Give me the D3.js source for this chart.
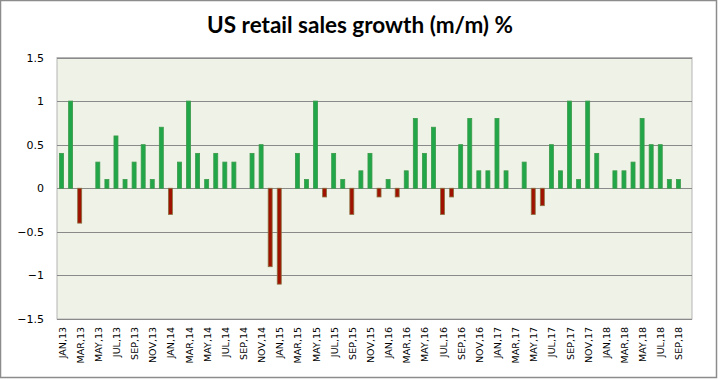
<!DOCTYPE html>
<html>
<head>
<meta charset="utf-8">
<script src="https://cdn.jsdelivr.net/npm/d3@7"></script>
<style>
  html, body { margin: 0; padding: 0; background: #ffffff; }
  svg { display: block; }
</style>
</head>
<body>
<script>
const title = "US retail sales growth (m/m) %";
const months = ["JAN","FEB","MAR","APR","MAY","JUN","JUL","AUG","SEP","OCT","NOV","DEC"];
const years = ["13","14","15","16","17","18"];
const categories = [];
years.forEach(y => months.forEach(m => categories.push(m + "," + y)));
categories.splice(70); // JAN,13 ... OCT,18
const values = [
  0.4, 1.0, -0.4, 0, 0.3, 0.1, 0.6, 0.1, 0.3, 0.5, 0.1, 0.7,
  -0.3, 0.3, 1.0, 0.4, 0.1, 0.4, 0.3, 0.3, 0, 0.4, 0.5, -0.9,
  -1.1, 0, 0.4, 0.1, 1.0, -0.1, 0.4, 0.1, -0.3, 0.2, 0.4, -0.1,
  0.1, -0.1, 0.2, 0.8, 0.4, 0.7, -0.3, -0.1, 0.5, 0.8, 0.2, 0.2,
  0.8, 0.2, 0, 0.3, -0.3, -0.2, 0.5, 0.2, 1.0, 0.1, 1.0, 0.4,
  0, 0.2, 0.2, 0.3, 0.8, 0.5, 0.5, 0.1, 0.1, null
];
const yTicks = [-1.5, -1, -0.5, 0, 0.5, 1, 1.5];

const W = 720, H = 379;
const m = { left: 57, right: 28, top: 57.5, bottom: 60 };

const svg = d3.select("body").append("svg").attr("width", W).attr("height", H);

// outer chart border
svg.append("rect").attr("x", 0.5).attr("y", 0.5).attr("width", 716).attr("height", 377)
  .attr("fill", "#ffffff").attr("stroke", "#8c8c8c").attr("stroke-width", 1.5);

svg.append("text").attr("x", 360).attr("y", 33).attr("text-anchor", "middle")
  .attr("font-family", "Lato, 'Open Sans', sans-serif").attr("font-weight", "bold")
  .attr("font-size", 22.5).attr("fill", "#000").text(title);

const x = d3.scaleBand().domain(categories).range([m.left, W - m.right]).paddingInner(0.56).paddingOuter(0.28);
const y = d3.scaleLinear().domain([-1.5, 1.5]).range([H - m.bottom, m.top]);

// plot background
svg.append("rect").attr("x", m.left).attr("y", y(1.5)).attr("width", W - m.right - m.left)
  .attr("height", y(-1.5) - y(1.5)).attr("fill", "#eff2e7").attr("stroke", "#b5b5b5").attr("stroke-width", 1);

// gridlines
svg.append("g").selectAll("line").data(yTicks).join("line")
  .attr("x1", m.left).attr("x2", W - m.right)
  .attr("y1", d => Math.round(y(d)) + 0.5).attr("y2", d => Math.round(y(d)) + 0.5)
  .attr("stroke", "#8a8a8a").attr("stroke-width", 1);

// y axis labels
const yAxis = d3.axisLeft(y).tickValues(yTicks).tickSize(0).tickPadding(13).tickFormat(d => d3.format("")(d));
const gy = svg.append("g").attr("transform", `translate(${m.left},0)`).call(yAxis);
gy.select(".domain").remove();
gy.selectAll("text").attr("font-family", "'DejaVu Sans', sans-serif").attr("font-size", 11).attr("fill", "#000");

// bars
svg.append("g").selectAll("rect")
  .data(categories.map((c, i) => ({ c, v: values[i] })).filter(d => d.v !== null && d.v !== 0))
  .join("rect")
  .attr("x", d => x(d.c))
  .attr("width", x.bandwidth())
  .attr("y", d => y(Math.max(0, d.v)))
  .attr("height", d => Math.abs(y(d.v) - y(0)))
  .attr("fill", d => d.v > 0 ? "#22a64a" : "#a01200")
  .attr("stroke", d => d.v > 0 ? "#3a9a48" : "#8a7040")
  .attr("stroke-width", 0.8);

// x axis labels (every other month)
const xAxis = d3.axisBottom(x).tickValues(categories.filter((c, i) => i % 2 === 0)).tickSize(0).tickPadding(0);
const gx = svg.append("g").attr("transform", `translate(0,${y(-1.5)})`).call(xAxis);
gx.select(".domain").remove();
gx.selectAll("text")
  .attr("font-family", "'DejaVu Sans', sans-serif").attr("font-size", 9.5).attr("fill", "#000")
  .attr("text-anchor", "end").attr("dy", null)
  .attr("transform", "translate(4,8) rotate(-90)")
  .attr("x", 0).attr("y", 0);
</script>
</body>
</html>
